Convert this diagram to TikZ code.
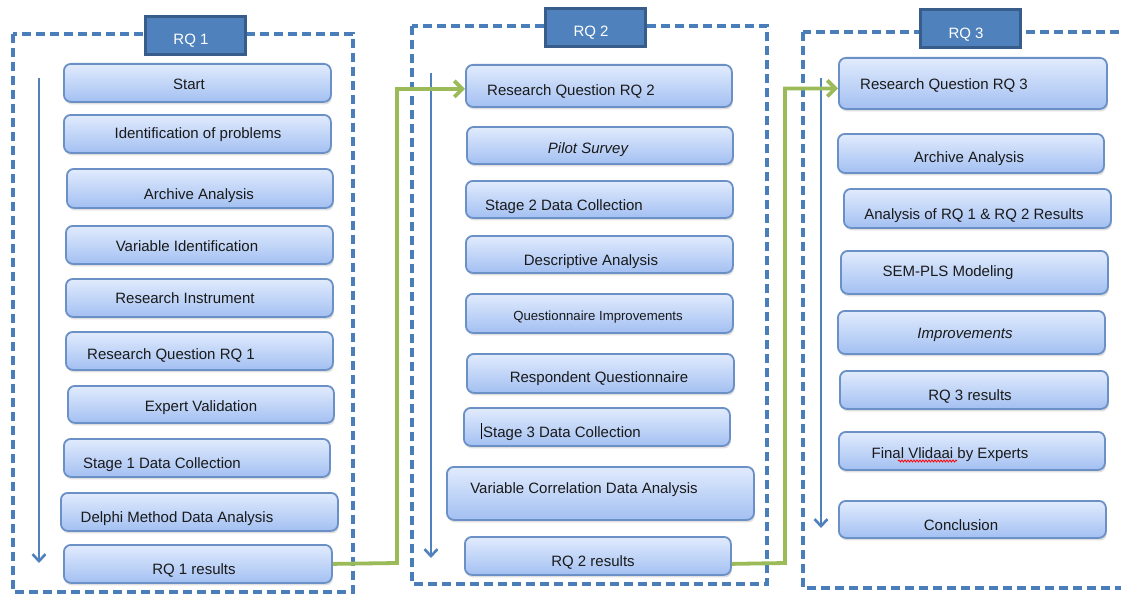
\documentclass[tikz,border=0pt]{standalone}
\usepackage{fontspec}
\setmainfont{Liberation Sans}
\usetikzlibrary{arrows.meta,shadows,decorations.pathmorphing}
\definecolor{dashblue}{HTML}{4A7EBB}
\definecolor{titlefill}{HTML}{4F81BD}
\definecolor{titleborder}{HTML}{385D8A}
\definecolor{boxtop}{HTML}{E1EBFD}
\definecolor{boxbot}{HTML}{A3C0F2}
\definecolor{boxborder}{HTML}{6A90C6}
\definecolor{arrowblue}{HTML}{4F81BD}
\definecolor{arrowgreen}{HTML}{9BBB59}
\definecolor{txtcol}{HTML}{1A1A1A}
\tikzset{
  box/.style={draw=boxborder, line width=1.8pt, rounded corners=7pt, top color=boxtop, bottom color=boxbot,
    drop shadow={opacity=0.25, shadow xshift=1pt, shadow yshift=-2.5pt}, anchor=north west, inner sep=0pt},
  txt/.style={anchor=base, inner sep=0pt, text=txtcol, font=\fontsize{15}{18}\selectfont},
  smalltxt/.style={txt, font=\fontsize{13.2}{16}\selectfont},
  frame/.style={draw=dashblue, line width=3.6pt, dash pattern=on 9pt off 5pt},
  titlebox/.style={draw=titleborder, fill=titlefill, line width=3pt, anchor=north west, inner sep=0pt},
  titletxt/.style={anchor=base, inner sep=0pt, text=white, font=\fontsize{15}{18}\selectfont},
  bluearrow/.style={draw=arrowblue, line width=2.6pt, -{Straight Barb[length=7pt,width=13pt,line width=2.6pt]}},
  greenarrow/.style={draw=arrowgreen, line width=3.8pt, -{Straight Barb[length=8pt,width=16pt,line width=3.8pt]}}
}
\begin{document}
\begin{tikzpicture}[x=1pt,y=-1pt]
\useasboundingbox (0,0) rectangle (1121,594);
\fill[white] (0,0) rectangle (1121,594);
% frames
\draw[frame] (13,34) rectangle (353,592);
\draw[frame] (412,26) rectangle (767,584);
\draw[frame] (803,32) rectangle (1140,588);
% titles
\node[titlebox, minimum width=100pt, minimum height=38pt] (t1) at (144,15) {};
\node[titletxt] (t1t) at (191,45) {RQ 1};
\node[titlebox, minimum width=100pt, minimum height=38pt] (t2) at (544,7) {};
\node[titletxt] (t2t) at (591,37) {RQ 2};
\node[titlebox, minimum width=100pt, minimum height=38pt] (t3) at (919,8) {};
\node[titletxt] (t3t) at (966,38) {RQ 3};
% column 1
\node[box, minimum width=267pt, minimum height=38pt] (c1a) at (63,63) {};
\node[txt] (c1at) at (189,89) {Start};
\node[box, minimum width=267pt, minimum height=38pt] (c1b) at (63,114) {};
\node[txt] (c1bt) at (198,138) {Identification of problems};
\node[box, minimum width=266pt, minimum height=39pt] (c1c) at (66,168) {};
\node[txt] (c1ct) at (199,199) {Archive Analysis};
\node[box, minimum width=267pt, minimum height=38pt] (c1d) at (65,225) {};
\node[txt] (c1dt) at (187,251) {Variable Identification};
\node[box, minimum width=267pt, minimum height=38pt] (c1e) at (65,278) {};
\node[txt] (c1et) at (185,303) {Research Instrument};
\node[box, minimum width=267pt, minimum height=38pt] (c1f) at (65,331) {};
\node[txt] (c1ft) at (171,359) {Research Question RQ 1};
\node[box, minimum width=266pt, minimum height=37pt] (c1g) at (67,385) {};
\node[txt] (c1gt) at (201,411) {Expert Validation};
\node[box, minimum width=266pt, minimum height=38pt] (c1h) at (63,438) {};
\node[txt] (c1ht) at (162,468) {Stage 1 Data Collection};
\node[box, minimum width=277pt, minimum height=38pt] (c1i) at (60,492) {};
\node[txt] (c1it) at (177,522) {Delphi Method Data Analysis};
\node[box, minimum width=268pt, minimum height=38pt] (c1j) at (63,544) {};
\node[txt] (c1jt) at (194,574) {RQ 1 results};
% column 2
\node[box, minimum width=266pt, minimum height=42pt] (c2a) at (465,64) {};
\node[txt] (c2at) at (571,95) {Research Question RQ 2};
\node[box, minimum width=266pt, minimum height=37pt] (c2b) at (466,126) {};
\node[txt] (c2bt) at (588,153) {\itshape Pilot Survey};
\node[box, minimum width=267pt, minimum height=37pt] (c2c) at (465,180) {};
\node[txt] (c2ct) at (564,210) {Stage 2 Data Collection};
\node[box, minimum width=267pt, minimum height=37pt] (c2d) at (465,235) {};
\node[txt] (c2dt) at (591,265) {Descriptive Analysis};
\node[box, minimum width=267pt, minimum height=39pt] (c2e) at (465,293) {};
\node[smalltxt] (c2et) at (598,320) {Questionnaire Improvements};
\node[box, minimum width=267pt, minimum height=39pt] (c2f) at (466,353) {};
\node[txt] (c2ft) at (599,382) {Respondent Questionnaire};
\node[box, minimum width=266pt, minimum height=38pt] (c2g) at (463,407) {};
\node[txt] (c2gt) at (562,437) {Stage 3 Data Collection};
\draw[black, line width=0.7pt] (c2gt.base west) ++(-1.5,2) -- ++(0,-16);
\node[box, minimum width=307pt, minimum height=53pt] (c2h) at (446,466) {};
\node[txt] (c2ht) at (584,493) {Variable Correlation Data Analysis};
\node[box, minimum width=266pt, minimum height=38pt] (c2i) at (464,536) {};
\node[txt] (c2it) at (593,566) {RQ 2 results};
% column 3
\node[box, minimum width=268pt, minimum height=51pt] (c3a) at (838,57) {};
\node[txt] (c3at) at (944,89) {Research Question RQ 3};
\node[box, minimum width=266pt, minimum height=39pt] (c3b) at (837,133) {};
\node[txt] (c3bt) at (969,162) {Archive Analysis};
\node[box, minimum width=267pt, minimum height=39pt] (c3c) at (843,188) {};
\node[txt] (c3ct) at (974,219) {Analysis of RQ 1 \& RQ 2 Results};
\node[box, minimum width=267pt, minimum height=43pt] (c3d) at (840,250) {};
\node[txt] (c3dt) at (948,276) {SEM-PLS Modeling};
\node[box, minimum width=267pt, minimum height=43pt] (c3e) at (837,310) {};
\node[txt] (c3et) at (965,338) {\itshape Improvements};
\node[box, minimum width=268pt, minimum height=38pt] (c3f) at (839,370) {};
\node[txt] (c3ft) at (970,400) {RQ 3 results};
\node[box, minimum width=266pt, minimum height=38pt] (c3g) at (838,431) {};
\node[txt] (c3gt) at (950,458) {Final Vlidaai by Experts};
\draw[red, line width=0.8pt, decorate, decoration={snake, amplitude=1pt, segment length=3pt}] (898,461) -- (957,461);
\node[box, minimum width=267pt, minimum height=37pt] (c3h) at (838,500) {};
\node[txt] (c3ht) at (961,530) {Conclusion};
% blue arrows
\coordinate (b1s) at (39,78); \coordinate (b1e) at (39,563);
\coordinate (b2s) at (431,73); \coordinate (b2e) at (431,558);
\coordinate (b3s) at (821,78); \coordinate (b3e) at (821,528);
\draw[bluearrow] (b1s) -- (b1e);
\draw[bluearrow] (b2s) -- (b2e);
\draw[bluearrow] (b3s) -- (b3e);
% green arrows
\coordinate (g1) at (397,563);
\coordinate (g2) at (785,563);
\draw[greenarrow] (c1j.east) -- (g1) |- ([yshift=-3pt]c2a.west);
\draw[greenarrow] ([yshift=-8pt]c2i.east) -- (g2) |- ([yshift=-5pt]c3a.west);
\end{tikzpicture}
\end{document}
